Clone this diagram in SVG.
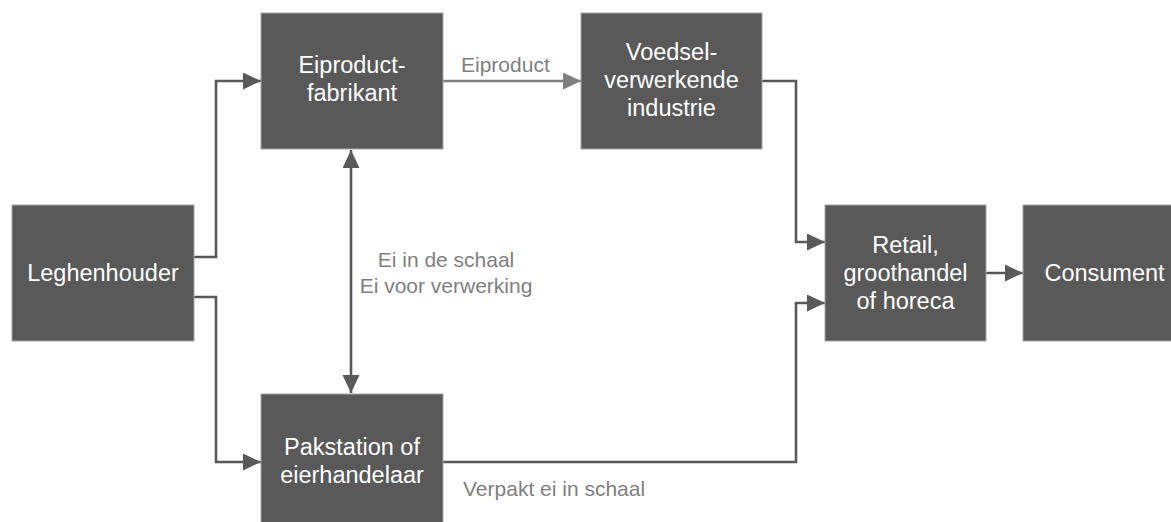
<svg xmlns="http://www.w3.org/2000/svg" width="1171" height="522" viewBox="0 0 1171 522">
<style>
.box{fill:#595959;stroke:#a6a6a6;stroke-width:1}
.bt{font-family:"Liberation Sans",Arial,sans-serif;font-size:23.5px;fill:#ffffff;text-anchor:middle}
.lbl{font-family:"Liberation Sans",Arial,sans-serif;font-size:21px;fill:#7f7f7f}
.c{fill:none;stroke:#595959;stroke-width:2.6}
.cl{fill:none;stroke:#7f7f7f;stroke-width:2.6}
</style>
<defs>
<marker id="ah" markerUnits="userSpaceOnUse" markerWidth="19" markerHeight="18" refX="18" refY="8.5" orient="auto-start-reverse" viewBox="0 0 19 18">
<path d="M0,0 L18,8.5 L0,17 z" fill="#595959"/>
</marker>
<marker id="ahl" markerUnits="userSpaceOnUse" markerWidth="19" markerHeight="18" refX="18" refY="8.5" orient="auto" viewBox="0 0 19 18">
<path d="M0,0 L18,8.5 L0,17 z" fill="#7f7f7f"/>
</marker>
</defs>
<g id="connectors">
<path class="c" d="M194,257 H216 V81 H261" marker-end="url(#ah)"/>
<path class="c" d="M194,297 H216 V462 H261" marker-end="url(#ah)"/>
<path class="cl" d="M443,81 H581" marker-end="url(#ahl)"/>
<path class="c" d="M351,150 V393" marker-start="url(#ah)" marker-end="url(#ah)"/>
<path class="c" d="M762,81 H796 V242 H825" marker-end="url(#ah)"/>
<path class="c" d="M443,462 H796 V303 H825" marker-end="url(#ah)"/>
<path class="c" d="M986,273 H1023" marker-end="url(#ah)"/>
<text class="lbl" x="461" y="72">Eiproduct</text>
<text class="lbl" x="446" y="267" text-anchor="middle">Ei in de schaal</text>
<text class="lbl" x="446" y="293" text-anchor="middle">Ei voor verwerking</text>
<text class="lbl" x="463" y="496">Verpakt ei in schaal</text>
</g>
<g id="leghenhouder">
<rect class="box" x="12" y="205" width="182" height="136"/>
<text class="bt" x="103" y="281">Leghenhouder</text>
</g>
<g id="eiproductfabrikant">
<rect class="box" x="261" y="13" width="182" height="136"/>
<text class="bt" x="352" y="73">Eiproduct-</text>
<text class="bt" x="352" y="101">fabrikant</text>
</g>
<g id="voedsel">
<rect class="box" x="581" y="13" width="181" height="136"/>
<text class="bt" x="671.5" y="60">Voedsel-</text>
<text class="bt" x="671.5" y="88">verwerkende</text>
<text class="bt" x="671.5" y="116">industrie</text>
</g>
<g id="pakstation">
<rect class="box" x="261" y="394" width="182" height="136"/>
<text class="bt" x="352" y="455">Pakstation of</text>
<text class="bt" x="352" y="483">eierhandelaar</text>
</g>
<g id="retail">
<rect class="box" x="825" y="205" width="161" height="136"/>
<text class="bt" x="905.5" y="253">Retail,</text>
<text class="bt" x="905.5" y="281">groothandel</text>
<text class="bt" x="905.5" y="309">of horeca</text>
</g>
<g id="consument">
<rect class="box" x="1023" y="205" width="163" height="136"/>
<text class="bt" x="1104.5" y="281">Consument</text>
</g>
</svg>
